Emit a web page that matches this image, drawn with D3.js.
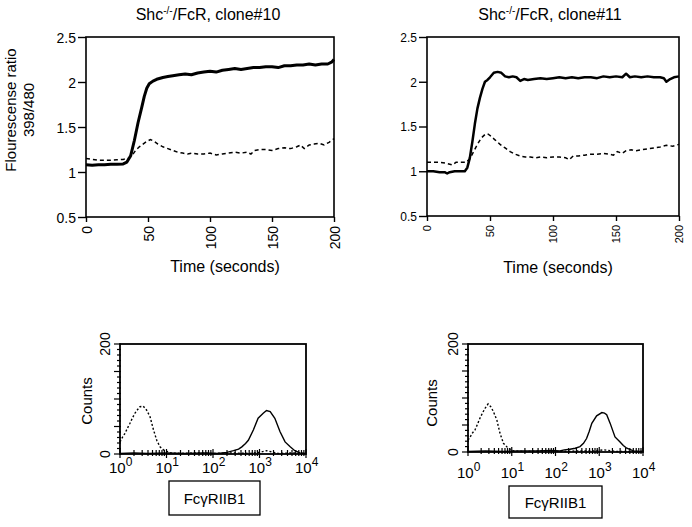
<!DOCTYPE html>
<html><head><meta charset="utf-8">
<script src="https://cdn.jsdelivr.net/npm/d3@7"></script>
<style>
body{margin:0;background:#fff;}
svg{font-family:"Liberation Sans",Arial,sans-serif;}
</style></head>
<body><svg id="c" width="692" height="527"></svg>
<script>
// ---------- data ----------
const titles = ["Shc", "/FcR, clone#10", "/FcR, clone#11"];
const timeTicks = [0, 50, 100, 150, 200];
const ratioTicks = [0.5, 1, 1.5, 2, 2.5];
const ratioTickLabels = ["0.5", "1", "1.5", "2", "2.5"];
// clone#10 kinetics [time (s), ratio]
const c10Solid = [[0,1.08],[5,1.075],[10,1.08],[15,1.08],[20,1.085],[25,1.085],[30,1.09],[33,1.11],[36,1.18],[39,1.35],[42,1.55],[45,1.72],[47,1.84],[49,1.93],[51,1.98],[54,2.01],[57,2.03],[62,2.05],[66,2.06],[70,2.07],[75,2.08],[80,2.09],[85,2.08],[90,2.1],[95,2.11],[100,2.12],[105,2.11],[110,2.13],[115,2.14],[120,2.15],[125,2.14],[130,2.15],[135,2.16],[140,2.16],[145,2.17],[150,2.17],[155,2.16],[160,2.18],[165,2.18],[170,2.19],[175,2.19],[180,2.2],[185,2.19],[190,2.2],[195,2.2],[198,2.22],[200,2.25]];
const c10Dashed = [[0,1.15],[5,1.14],[10,1.13],[15,1.13],[20,1.13],[25,1.135],[30,1.14],[34,1.15],[37,1.18],[40,1.24],[43,1.28],[46,1.31],[49,1.34],[52,1.36],[55,1.34],[58,1.31],[62,1.28],[66,1.26],[70,1.24],[74,1.22],[78,1.21],[82,1.2],[86,1.21],[90,1.2],[95,1.2],[100,1.21],[105,1.19],[110,1.2],[115,1.21],[120,1.22],[125,1.21],[130,1.22],[133,1.2],[136,1.24],[140,1.25],[145,1.25],[150,1.24],[155,1.26],[160,1.27],[165,1.26],[170,1.28],[173,1.3],[176,1.26],[180,1.3],[184,1.31],[188,1.32],[192,1.3],[196,1.33],[200,1.37]];
// clone#11 kinetics
const c11Solid = [[0,1.0],[5,1.0],[10,0.99],[14,0.99],[16,0.975],[18,0.99],[22,1.0],[26,1.0],[30,1.0],[32,1.04],[34,1.15],[36,1.33],[38,1.53],[40,1.7],[42,1.82],[44,1.92],[46,2.0],[48,2.02],[50,2.05],[53,2.1],[56,2.11],[59,2.1],[62,2.06],[65,2.05],[68,2.06],[71,2.05],[74,2.01],[77,2.03],[80,2.02],[85,2.03],[90,2.04],[95,2.03],[100,2.04],[105,2.05],[110,2.04],[115,2.05],[120,2.04],[125,2.05],[130,2.05],[135,2.04],[140,2.06],[145,2.05],[150,2.06],[155,2.05],[158,2.09],[161,2.05],[165,2.06],[170,2.05],[175,2.06],[180,2.05],[185,2.05],[188,2.04],[190,2.0],[193,2.03],[196,2.05],[200,2.06]];
const c11Dashed = [[0,1.1],[5,1.1],[10,1.1],[15,1.09],[20,1.07],[23,1.1],[27,1.1],[31,1.1],[34,1.14],[37,1.22],[40,1.3],[43,1.37],[46,1.41],[48,1.42],[51,1.39],[54,1.35],[58,1.3],[62,1.26],[66,1.22],[70,1.19],[74,1.17],[78,1.16],[82,1.16],[86,1.15],[90,1.16],[95,1.15],[100,1.16],[105,1.16],[110,1.15],[113,1.13],[116,1.17],[120,1.17],[125,1.18],[130,1.19],[135,1.19],[140,1.2],[145,1.19],[148,1.18],[151,1.22],[155,1.2],[158,1.23],[162,1.24],[166,1.23],[170,1.24],[175,1.25],[180,1.26],[185,1.27],[190,1.29],[195,1.28],[200,1.3]];
// FACS histograms [log10 fluorescence, counts]
const countTicks = [0, 200];
const decadeTicks = [0, 1, 2, 3, 4];
const h10Dotted = [[0,22],[0.05,30],[0.11,38],[0.16,47],[0.215,56],[0.27,66],[0.32,74],[0.38,81],[0.43,86],[0.5,87],[0.57,80],[0.645,68],[0.72,44],[0.79,25],[0.86,13],[0.93,8],[0.97,6],[1.08,2],[1.3,1],[1.6,2],[2.0,1],[2.4,2],[2.8,1],[3.0,3],[3.15,6],[3.25,4],[3.4,1],[3.7,2],[4,1]];
const h10Solid = [[0,1],[0.3,2],[0.6,1],[1.0,2],[1.4,1],[1.8,2],[2.1,1],[2.3,3],[2.44,6],[2.55,9],[2.62,13],[2.7,19],[2.76,25],[2.87,44],[2.97,65],[3.08,74],[3.15,79],[3.23,77],[3.33,65],[3.44,41],[3.55,22],[3.66,13],[3.76,6],[3.87,2],[4,1]];
const h11Dotted = [[0,22],[0.05,28],[0.1,35],[0.16,41],[0.22,52],[0.27,62],[0.33,72],[0.39,81],[0.46,89],[0.52,84],[0.58,75],[0.66,59],[0.73,35],[0.81,16],[0.92,7],[1.04,2],[1.3,1],[1.7,2],[2.1,1],[2.5,2],[2.9,2],[3.1,4],[3.2,3],[3.4,1],[3.8,1],[4,1]];
const h11Solid = [[0,1],[0.4,2],[0.8,1],[1.2,2],[1.6,2],[1.9,3],[2.1,2],[2.2,4],[2.33,5],[2.45,7],[2.56,10],[2.64,16],[2.71,25],[2.77,38],[2.83,53],[2.94,67],[3.06,73],[3.12,72],[3.17,69],[3.25,53],[3.36,28],[3.47,19],[3.55,12],[3.63,7],[3.78,2],[3.9,1],[4,1]];

// ---------- drawing ----------
const svg = d3.select("#c");

function kinetics(cfg){
  const x = d3.scaleLinear().domain([0,200]).range([cfg.x0,cfg.x1]);
  const y = d3.scaleLinear().domain([0.5,2.5]).range([cfg.y1,cfg.y0]);
  const g = svg.append("g");
  // box
  g.append("rect").attr("x",cfg.x0).attr("y",cfg.y0).attr("width",cfg.x1-cfg.x0).attr("height",cfg.y1-cfg.y0)
    .attr("fill","none").attr("stroke","#000").attr("stroke-width",1.6);
  // y axis
  const ya = g.append("g").attr("transform",`translate(${cfg.x0},0)`)
    .call(d3.axisLeft(y).tickValues(ratioTicks).tickFormat((d,i)=>ratioTickLabels[i]).tickSize(8).tickPadding(2));
  ya.select(".domain").remove();
  ya.selectAll("line").attr("stroke-width",1.4);
  ya.selectAll("text").attr("font-size",cfg.yfs).attr("font-family","Liberation Sans, Arial, sans-serif").attr("font-weight",cfg.fw).attr("dy","0.36em");
  // x axis
  const xa = g.append("g").attr("transform",`translate(0,${cfg.y1})`)
    .call(d3.axisBottom(x).tickValues(timeTicks).tickSize(5).tickFormat(d3.format("d")));
  xa.select(".domain").remove();
  xa.selectAll("line").attr("stroke-width",1.4);
  xa.selectAll("text").attr("font-size",cfg.xfs).attr("font-family","Liberation Sans, Arial, sans-serif").attr("font-weight",cfg.fw)
    .attr("text-anchor","end").attr("transform","rotate(-90)").attr("x",-9).attr("y",0).attr("dy","0.36em");
  // lines
  const line = d3.line().x(d=>x(d[0])).y(d=>y(d[1])).curve(d3.curveLinear);
  g.append("path").datum(cfg.dashed).attr("d",line).attr("fill","none").attr("stroke","#000")
    .attr("stroke-width",1.5).attr("stroke-dasharray","4,3");
  g.append("path").datum(cfg.solid).attr("d",line).attr("fill","none").attr("stroke","#000")
    .attr("stroke-width",cfg.sw).attr("stroke-linejoin","round");
  // title
  const t = svg.append("text").attr("x",cfg.tx).attr("y",20).attr("text-anchor","middle").attr("font-size",16);
  t.append("tspan").text(titles[0]);
  t.append("tspan").text("-/-").attr("font-size",10).attr("dy",-6);
  t.append("tspan").text(cfg.title).attr("dy",6);
  // x label
  svg.append("text").attr("x",cfg.lx).attr("y",cfg.ly).attr("text-anchor","middle").attr("font-size",16).text("Time (seconds)");
}

kinetics({x0:86,x1:334,y0:37,y1:217,yfs:14,xfs:14,fw:"normal",sw:3,title:titles[1],tx:208,lx:225,ly:272,solid:c10Solid,dashed:c10Dashed});
kinetics({x0:427,x1:679,y0:37,y1:216,yfs:12,xfs:11,fw:"normal",sw:2.5,title:titles[2],tx:550,lx:558,ly:273,solid:c11Solid,dashed:c11Dashed});

// y label
const yl = svg.append("text").attr("transform","translate(0,110) rotate(-90)").attr("text-anchor","middle").attr("font-size",15);
yl.append("tspan").attr("x",0).attr("y",16).text("Flourescense ratio");
yl.append("tspan").attr("x",0).attr("y",34).text("398/480");

function facs(cfg){
  const x = d3.scaleLog().domain([1,1e4]).range([cfg.x0,cfg.x1]);
  const y = d3.scaleLinear().domain([0,200]).range([cfg.y1,cfg.y0]);
  const g = svg.append("g");
  g.append("rect").attr("x",cfg.x0).attr("y",cfg.y0).attr("width",cfg.x1-cfg.x0).attr("height",cfg.y1-cfg.y0)
    .attr("fill","none").attr("stroke","#000").attr("stroke-width",1.8);
  // y minor ticks
  const yt = d3.range(0,201,10);
  g.selectAll(".yt").data(yt).join("line").attr("x1",d=>cfg.x0-(d%50===0?6:3)).attr("x2",cfg.x0+1)
    .attr("y1",d=>y(d)).attr("y2",d=>y(d)).attr("stroke","#000").attr("stroke-width",1.2);
  // y labels rotated
  g.selectAll(".yl").data(countTicks).join("text")
    .attr("transform",d=>`translate(${cfg.x0-10},${y(d)}) rotate(-90)`).attr("text-anchor","middle")
    .attr("font-size",14).attr("dy","0")
    .text(d=>d);
  // x ticks (log)
  const minor = x.ticks();
  g.selectAll(".xt").data(minor).join("line").attr("x1",d=>x(d)).attr("x2",d=>x(d))
    .attr("y1",d=>cfg.y1-(decadeTicks.includes(Math.round(Math.log10(d)*1000)/1000)?5:4)).attr("y2",d=>cfg.y1+(decadeTicks.includes(Math.round(Math.log10(d)*1000)/1000)?4:2))
    .attr("stroke","#000").attr("stroke-width",1.2);
  // x labels
  decadeTicks.forEach(e=>{
    const t = g.append("text").attr("x",x(Math.pow(10,e))-11).attr("y",cfg.ly).attr("font-size",15);
    t.append("tspan").text("10");
    t.append("tspan").text(e).attr("font-size",12).attr("dy",-7);
  });
  const line = d3.line().x(d=>x(Math.pow(10,d[0]))).y(d=>y(d[1]));
  g.append("path").datum(cfg.dotted).attr("d",line).attr("fill","none").attr("stroke","#000").attr("stroke-width",1.4).attr("stroke-dasharray","2,2");
  g.append("path").datum(cfg.solid).attr("d",line).attr("fill","none").attr("stroke","#000").attr("stroke-width",1.4);
  // Counts label
  svg.append("text").attr("transform",`translate(${cfg.cx},${cfg.cy}) rotate(-90)`).attr("text-anchor","middle").attr("font-size",15).text("Counts");
  // box label
  svg.append("rect").attr("x",cfg.bx).attr("y",cfg.by).attr("width",cfg.bw).attr("height",cfg.bh).attr("fill","none").attr("stroke","#000").attr("stroke-width",1.3);
  svg.append("text").attr("x",cfg.bx+cfg.bw/2).attr("y",cfg.by+cfg.bh/2+5.5).attr("text-anchor","middle").attr("font-size",15).text("FcγRIIB1");
}
facs({x0:120,x1:306,y0:344,y1:454,ly:473,dotted:h10Dotted,solid:h10Solid,cx:92,cy:401,bx:169,by:481,bw:91,bh:34});
facs({x0:468,x1:643,y0:344,y1:452,ly:478,dotted:h11Dotted,solid:h11Solid,cx:437,cy:403,bx:509,by:486,bw:93,bh:32});
</script></body></html>
